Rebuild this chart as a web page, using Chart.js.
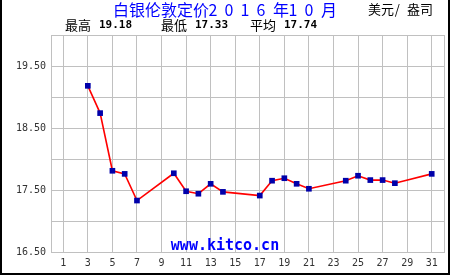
<!DOCTYPE html>
<html>
<head>
<meta charset="utf-8">
<script src="https://cdn.jsdelivr.net/npm/chart.js@4.4.0/dist/chart.umd.min.js"></script>
<style>
  html, body { margin: 0; padding: 0; background: #fff; }
  #wrap { width: 450px; height: 275px; }
</style>
</head>
<body>
<div id="wrap"><canvas id="myChart" width="450" height="275"></canvas></div>
<script>
// 白银伦敦定价 2016年10月 (美元/盎司)
var days = [3, 4, 5, 6, 7, 10, 11, 12, 13, 14, 17, 18, 19, 20, 21, 24, 25, 26, 27, 28, 31];
var prices = [19.18, 18.74, 17.81, 17.76, 17.33, 17.77, 17.48, 17.44, 17.60, 17.47, 17.41,
              17.65, 17.69, 17.60, 17.52, 17.65, 17.73, 17.66, 17.66, 17.61, 17.76];
var xTicks = [1, 3, 5, 7, 9, 11, 13, 15, 17, 19, 21, 23, 25, 27, 29, 31];
var yTicks = [16.5, 17, 17.5, 18, 18.5, 19, 19.5, 20];
var yLabels = [16.5, 17.5, 18.5, 19.5];

var title = '白银伦敦定价2 0 1 6 年1 0 月';
var unit = '美元/ 盎司';
var stats = [['最高', '19.18'], ['最低', '17.33'], ['平均', '17.74']];

var mono = '"DejaVu Sans Mono", "Liberation Mono", monospace';
var cjk = '"Noto Sans CJK SC", "Noto Sans", sans-serif';

// draw text with fixed-width cells like a bitmap font: full width for CJK, half for the rest
function cellText(c, str, x, y, size) {
    c.textAlign = 'center';
    for (var i = 0; i < str.length; i++) {
        var ch = str[i];
        var w = ch.charCodeAt(0) > 0x2e80 ? size : size / 2;
        if (ch !== ' ') c.fillText(ch, x + w / 2, y);
        x += w;
    }
}

var decor = {
    id: 'decor',
    beforeDraw: function(chart) {
        var c = chart.ctx;
        c.save();
        c.fillStyle = '#fff';
        c.fillRect(0, 0, chart.width, chart.height);
        c.restore();
    },
    afterDraw: function(chart) {
        var c = chart.ctx, a = chart.chartArea;
        c.save();
        // plot box
        c.strokeStyle = '#c0c0c0';
        c.lineWidth = 1;
        c.strokeRect(a.left + 0.5, a.top + 0.5, a.right - a.left, a.bottom - a.top);

        c.textBaseline = 'middle';
        // title
        c.fillStyle = '#0000ff';
        c.font = '16px ' + cjk;
        cellText(c, title, 113, 10, 16);

        // unit
        c.fillStyle = '#000';
        c.font = '13px ' + cjk;
        cellText(c, unit, 368, 9, 13);

        // stats line
        var xs = [65, 161, 250];
        c.textAlign = 'left';
        stats.forEach(function(s, i) {
            c.font = '13px ' + cjk;
            cellText(c, s[0], xs[i], 25, 13);
            c.font = 'bold 11px ' + mono;
            c.textAlign = 'left';
            c.fillText(s[1], xs[i] + 34, 25);
        });

        // watermark
        c.fillStyle = '#0000ff';
        c.font = 'bold 15px ' + mono;
        c.textAlign = 'center';
        c.fillText('www.kitco.cn', 225, 246);

        // outer frame (left, right, bottom)
        c.fillStyle = '#000';
        c.fillRect(0, 0, 2, 275);
        c.fillRect(448, 0, 2, 275);
        c.fillRect(0, 273, 450, 2);
        c.restore();
    }
};

var ctx = document.getElementById('myChart').getContext('2d');
var chart = new Chart(ctx, {
    type: 'line',
    data: {
        datasets: [{
            data: days.map(function(d, i) { return { x: d, y: prices[i] }; }),
            borderColor: '#ff0000',
            borderWidth: 1.6,
            backgroundColor: '#0000aa',
            pointBackgroundColor: '#0000aa',
            pointBorderColor: '#0000aa',
            pointStyle: 'rect',
            pointRadius: 4,
            pointBorderWidth: 0,
            tension: 0,
            fill: false
        }]
    },
    options: {
        responsive: false,
        animation: false,
        layout: { padding: { left: 0, top: 35, right: 6, bottom: 0 } },
        plugins: {
            legend: { display: false },
            tooltip: { enabled: false }
        },
        scales: {
            x: {
                type: 'linear',
                min: 0,
                max: 32,
                afterBuildTicks: function(s) { s.ticks = xTicks.map(function(v) { return { value: v }; }); },
                afterFit: function(s) { s.height = 23; },
                grid: { color: '#c0c0c0', lineWidth: 1, drawTicks: false },
                border: { color: '#c0c0c0' },
                ticks: {
                    autoSkip: false,
                    maxRotation: 0,
                    padding: 5,
                    color: '#333',
                    font: { family: mono, size: 10 },
                    callback: function(v) { return String(v); }
                }
            },
            y: {
                min: 16.5,
                max: 20,
                afterBuildTicks: function(s) { s.ticks = yTicks.map(function(v) { return { value: v }; }); },
                afterFit: function(s) { s.width = 51; },
                grid: { color: '#c0c0c0', lineWidth: 1, drawTicks: false },
                border: { color: '#c0c0c0' },
                ticks: {
                    autoSkip: false,
                    padding: 5,
                    color: '#333',
                    font: { family: mono, size: 10 },
                    callback: function(v) { return yLabels.indexOf(v) >= 0 ? v.toFixed(2) : ''; }
                }
            }
        }
    },
    plugins: [decor]
});
</script>
</body>
</html>
